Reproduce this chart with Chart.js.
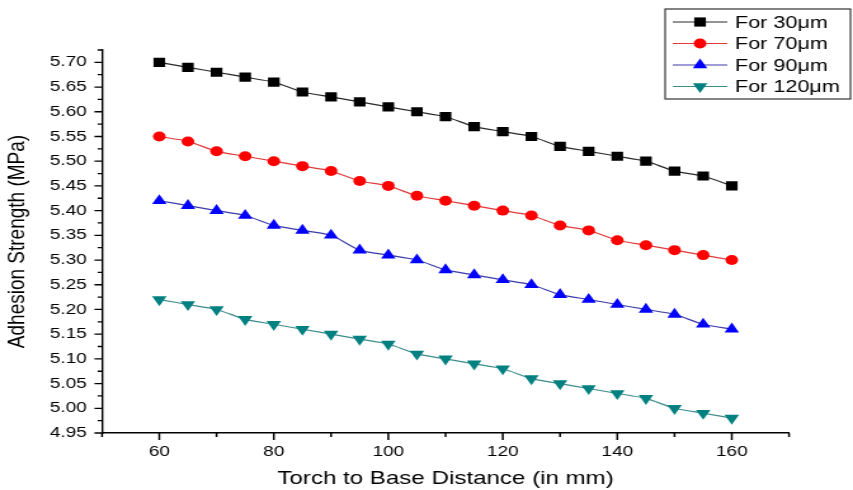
<!DOCTYPE html>
<html>
<head>
<meta charset="utf-8">
<title>Adhesion Strength vs Torch to Base Distance</title>
<script src="https://cdn.jsdelivr.net/npm/chart.js@4.4.1/dist/chart.umd.min.js"></script>
<style>
  html, body { margin: 0; padding: 0; background: #fff; overflow: hidden; }
  /* the plot is laid out on a narrower canvas and widened to 853px */
  #wrap { width: 672px; height: 490px; transform: scaleX(1.26935); transform-origin: 0 0; }
</style>
</head>
<body>
<div id="wrap"><canvas id="c"></canvas></div>
<script>
// Torch to base distance (mm)
const distances = [60, 65, 70, 75, 80, 85, 90, 95, 100, 105, 110, 115, 120, 125, 130, 135, 140, 145, 150, 155, 160];

// Adhesion strength (MPa) for each particle size
const strength30  = [5.70, 5.69, 5.68, 5.67, 5.66, 5.64, 5.63, 5.62, 5.61, 5.60, 5.59, 5.57, 5.56, 5.55, 5.53, 5.52, 5.51, 5.50, 5.48, 5.47, 5.45];
const strength70  = [5.55, 5.54, 5.52, 5.51, 5.50, 5.49, 5.48, 5.46, 5.45, 5.43, 5.42, 5.41, 5.40, 5.39, 5.37, 5.36, 5.34, 5.33, 5.32, 5.31, 5.30];
const strength90  = [5.42, 5.41, 5.40, 5.39, 5.37, 5.36, 5.35, 5.32, 5.31, 5.30, 5.28, 5.27, 5.26, 5.25, 5.23, 5.22, 5.21, 5.20, 5.19, 5.17, 5.16];
const strength120 = [5.22, 5.21, 5.20, 5.18, 5.17, 5.16, 5.15, 5.14, 5.13, 5.11, 5.10, 5.09, 5.08, 5.06, 5.05, 5.04, 5.03, 5.02, 5.00, 4.99, 4.98];

const seriesLabels = ['For 30\u03BCm', 'For 70\u03BCm', 'For 90\u03BCm', 'For 120\u03BCm'];

// Axis ranges and tick steps
const xMin = 50, xMax = 170, xStep = 10, xLabelStep = 20;
const yMin = 4.95, yMax = 5.725, yStep = 0.025, yLabelStep = 0.05;

const FONT = '"Liberation Sans", Arial, sans-serif';

function toPoints(ys) {
  return distances.map((d, i) => ({ x: d, y: ys[i] }));
}

const styles = [
  { line: '#2a2a2a', fill: '#000000', pointStyle: 'rect',     radius: 6.5, rotation: 0 },
  { line: '#e03a3a', fill: '#ff0000', pointStyle: 'circle',   radius: 5,   rotation: 0 },
  { line: '#3c3caa', fill: '#0000ff', pointStyle: 'triangle', radius: 6.6, rotation: 0 },
  { line: '#3f8c8c', fill: '#008080', pointStyle: 'triangle', radius: 6.6, rotation: 180 }
];
const allSeries = [strength30, strength70, strength90, strength120];

const datasets = allSeries.map((ys, i) => ({
  label: seriesLabels[i],
  data: toPoints(ys),
  borderColor: styles[i].line,
  borderWidth: 1.2,
  backgroundColor: styles[i].fill,
  pointBackgroundColor: styles[i].fill,
  pointBorderColor: styles[i].fill,
  pointBorderWidth: 0,
  pointStyle: styles[i].pointStyle,
  pointRadius: styles[i].radius,
  pointRotation: styles[i].rotation,
  tension: 0.25,
  fill: false
}));

function rangeTicks(min, max, step) {
  const out = [];
  const n = Math.round((max - min) / step);
  for (let i = 0; i <= n; i++) out.push({ value: +(min + i * step).toFixed(4) });
  return out;
}
function isMultiple(v, step) {
  const r = v / step;
  return Math.abs(r - Math.round(r)) < 1e-6;
}

// Outward major / minor tick marks on both axes
const tickMarks = {
  id: 'tickMarks',
  afterDraw(chart) {
    const ctx = chart.ctx;
    const xs = chart.scales.x, ys = chart.scales.y;
    ctx.save();
    ctx.strokeStyle = '#000';
    ctx.lineWidth = 1.5;
    ctx.beginPath();
    xs.ticks.forEach(t => {
      const px = xs.getPixelForValue(t.value);
      const len = isMultiple(t.value, xLabelStep) ? 7 : 4;
      ctx.moveTo(px, xs.top);
      ctx.lineTo(px, xs.top + len);
    });
    ctx.stroke();
    ctx.lineWidth = 1.3;
    ctx.beginPath();
    ys.ticks.forEach(t => {
      const py = ys.getPixelForValue(t.value);
      const len = isMultiple(t.value - yMin, yLabelStep) ? 6 : 3.5;
      ctx.moveTo(ys.right, py);
      ctx.lineTo(ys.right - len, py);
    });
    ctx.stroke();
    ctx.restore();
  }
};

// Boxed legend in the top-right corner
const boxLegend = {
  id: 'boxLegend',
  afterDraw(chart) {
    const ctx = chart.ctx;
    const left = 524, top = 9, width = 146, rowH = 21.5;
    const rows = chart.data.datasets.length;
    ctx.save();
    ctx.fillStyle = '#fff';
    ctx.fillRect(left, top, width, rows * rowH + 4);
    ctx.strokeStyle = '#333';
    ctx.lineWidth = 1.2;
    ctx.strokeRect(left, top, width, rows * rowH + 4);
    chart.data.datasets.forEach((ds, i) => {
      const cy = top + 13 + i * rowH;
      ctx.strokeStyle = ds.borderColor;
      ctx.lineWidth = 1.2;
      ctx.beginPath();
      ctx.moveTo(left + 6, cy);
      ctx.lineTo(left + 49, cy);
      ctx.stroke();
      ctx.fillStyle = ds.pointBackgroundColor;
      ctx.strokeStyle = ds.pointBorderColor;
      if (Chart.helpers && Chart.helpers.drawPoint) {
        Chart.helpers.drawPoint(ctx, {
          pointStyle: ds.pointStyle,
          radius: ds.pointRadius,
          rotation: ds.pointRotation,
          borderWidth: 0
        }, left + 27.5, cy);
      }
      ctx.fillStyle = '#000';
      ctx.font = '17px ' + FONT;
      ctx.textBaseline = 'middle';
      ctx.textAlign = 'left';
      ctx.fillText(ds.label, left + 55, cy + 1);
    });
    ctx.restore();
  }
};

new Chart(document.getElementById('c'), {
  type: 'line',
  data: { datasets },
  plugins: [tickMarks, boxLegend],
  options: {
    responsive: true,
    maintainAspectRatio: false,
    animation: false,
    devicePixelRatio: 1,
    layout: { padding: { top: 50, right: 50.4, left: 0, bottom: 0 } },
    plugins: { legend: { display: false }, tooltip: { enabled: false } },
    scales: {
      x: {
        type: 'linear',
        min: xMin, max: xMax,
        afterBuildTicks(scale) { scale.ticks = rangeTicks(xMin, xMax, xStep); },
        afterFit(scale) { scale.height = 57; },
        grid: { display: true, drawOnChartArea: false, drawTicks: true, tickLength: 6, color: 'rgba(0,0,0,0)' },
        border: { display: true, color: '#000', width: 1.6 },
        ticks: {
          autoSkip: false, maxRotation: 0, padding: 4,
          color: '#000', font: { family: FONT, size: 15 },
          callback: v => isMultiple(v, xLabelStep) ? String(v) : ''
        },
        title: {
          display: true, text: 'Torch to Base Distance (in mm)',
          color: '#000', font: { family: FONT, size: 19 }, padding: { top: 0, bottom: 0 }
        }
      },
      y: {
        type: 'linear',
        min: yMin, max: yMax,
        afterBuildTicks(scale) { scale.ticks = rangeTicks(yMin, yMax, yStep); },
        afterFit(scale) { scale.width = 80.4; },
        grid: { display: true, drawOnChartArea: false, drawTicks: true, tickLength: 6, color: 'rgba(0,0,0,0)' },
        border: { display: true, color: '#000', width: 1.4 },
        ticks: {
          autoSkip: false, padding: 6,
          color: '#000', font: { family: FONT, size: 15 },
          callback: v => isMultiple(v - yMin, yLabelStep) ? v.toFixed(2) : ''
        },
        title: {
          display: true, text: 'Adhesion Strength (MPa)',
          color: '#000', font: { family: FONT, size: 19 }, padding: { top: 2, bottom: 0 }
        }
      }
    }
  }
});
</script>
</body>
</html>
